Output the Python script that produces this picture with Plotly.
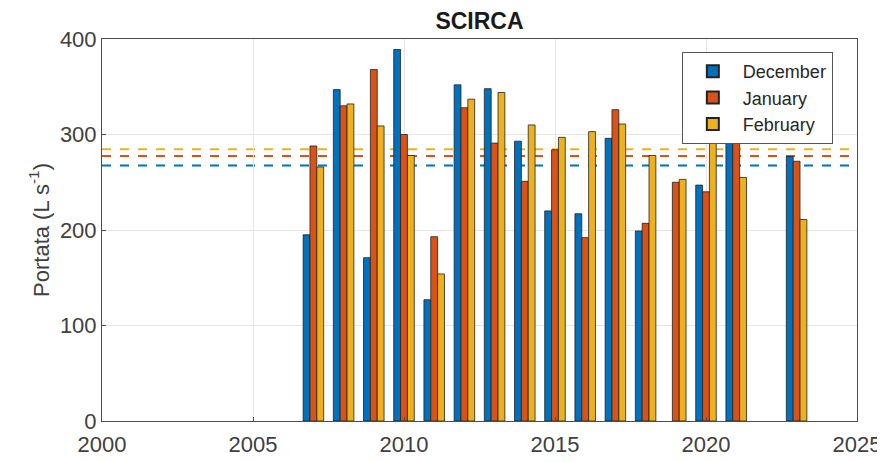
import numpy as np
import plotly.graph_objects as go

years = list(range(2007, 2024))
december = [195, 347, 171, 389, 127, 352, 348, 293, 220, 217, 296, 199, None, 247, 337, None, 277]
january = [288, 330, 368, 300, 193, 328, 291, 251, 284, 192, 326, 207, 250, 240, 320, None, 272]
february = [266, 332, 309, 278, 154, 337, 344, 310, 297, 303, 311, 278, 253, 314, 255, None, 211]

series = [
    ("December", december, "#0072BD"),
    ("January", january, "#D95319"),
    ("February", february, "#EDB120"),
]

fig = go.Figure()

for name, vals, color in series:
    fig.add_trace(go.Bar(
        x=years, y=vals, name=name,
        marker=dict(color=color, line=dict(color="#222222", width=0.8)),
    ))

# dashed mean lines, drawn under the bars
for name, vals, color in series:
    mean = np.mean([v for v in vals if v is not None])
    fig.add_shape(
        type="line", xref="paper", yref="y", x0=0, x1=1, y0=mean, y1=mean,
        line=dict(color=color, width=2, dash="dash"), layer="below",
    )

axis_font = dict(family="Liberation Sans, Arial, sans-serif", size=22, color="#404040")

# page body adds an 8px offset, so the figure is a bit smaller than the window
fig.update_layout(
    width=877, height=454,
    barmode="group", bargap=0.32, bargroupgap=0,
    paper_bgcolor="white", plot_bgcolor="white",
    margin=dict(l=94, r=28, t=31, b=41, autoexpand=False),
    font=dict(family="Liberation Sans, Arial, sans-serif", color="#262626"),
    title=dict(text="<b>SCIRCA</b>", xref="paper", x=0.5, xanchor="center",
               yref="container", y=0.99, yanchor="top", pad=dict(t=0),
               font=dict(size=23, color="#1a1a1a")),
    legend=dict(
        x=0.968, xanchor="right", y=0.966, yanchor="top",
        bgcolor="white", bordercolor="#555555", borderwidth=1,
        font=dict(size=18, color="#262626"), tracegroupgap=0,
        itemsizing="constant", itemwidth=50,
    ),
)

fig.update_xaxes(
    range=[2000, 2025], tickmode="linear", tick0=2000, dtick=5,
    showgrid=True, gridcolor="#e6e6e6", gridwidth=1,
    showline=True, linecolor="#4d4d4d", linewidth=1, mirror=True,
    ticks="inside", ticklen=4, tickcolor="#4d4d4d", ticklabelstandoff=4,
    tickfont=axis_font, zeroline=False, automargin=False,
)
fig.update_yaxes(
    range=[0, 400], tickmode="linear", tick0=0, dtick=100,
    showgrid=True, gridcolor="#e6e6e6", gridwidth=1,
    showline=True, linecolor="#4d4d4d", linewidth=1, mirror=True,
    ticks="inside", ticklen=4, tickcolor="#4d4d4d",
    tickfont=axis_font, zeroline=False, automargin=False,
    title=dict(text="Portata (L s<sup>-1</sup>)", font=dict(size=22, color="#404040"), standoff=4),
)

fig.write_html("out.html")
